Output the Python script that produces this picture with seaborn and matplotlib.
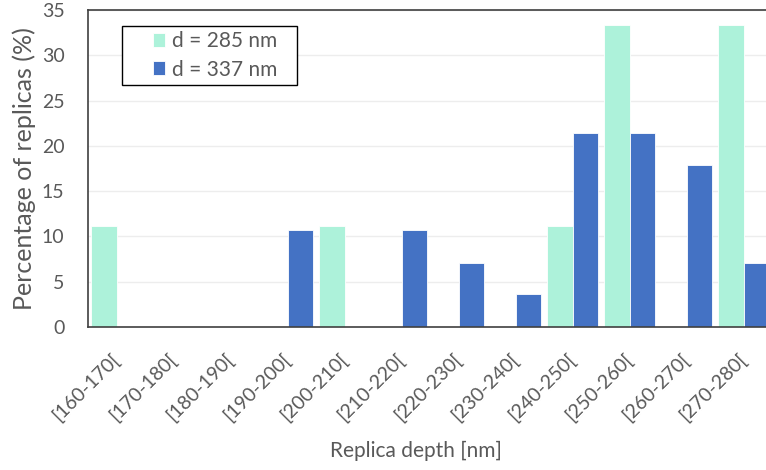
import matplotlib
matplotlib.use("Agg")
import matplotlib.pyplot as plt
from matplotlib.patches import Rectangle
import numpy as np
import pandas as pd
import seaborn as sns

categories = [
    "[160-170[", "[170-180[", "[180-190[", "[190-200[",
    "[200-210[", "[210-220[", "[220-230[", "[230-240[",
    "[240-250[", "[250-260[", "[260-270[", "[270-280[",
]
d_285 = [11.1, 0, 0, 0, 11.1, 0, 0, 0, 11.1, 33.3, 0, 33.3]
d_337 = [0, 0, 0, 10.7, 0, 10.7, 7.1, 3.6, 21.4, 21.4, 17.9, 7.1]
series_names = ["d = 285 nm", "d = 337 nm"]

df = pd.DataFrame({
    "depth": categories * 2,
    "pct": d_285 + d_337,
    "series": [series_names[0]] * len(categories) + [series_names[1]] * len(categories),
})

sns.set_style("white")
plt.rcParams["font.family"] = ["Lato", "DejaVu Sans"]

text_col = "#595959"
axis_col = "#404040"

fig = plt.figure(figsize=(7.66, 4.70), dpi=100)
# plot area runs past the right edge, like the cropped reference
ax = fig.add_axes([88 / 766, 143 / 470, 684 / 766, 317 / 470])

sns.barplot(
    data=df,
    x="depth",
    y="pct",
    hue="series",
    palette=["#ADF2DA", "#4472C4"],
    width=0.9,
    edgecolor="white",
    linewidth=0.6,
    saturation=1,
    ax=ax,
)

ax.set_xlim(-0.5, len(categories) - 0.5)
ax.set_ylim(0, 35)
ax.set_yticks(np.arange(0, 36, 5))
ax.yaxis.grid(True, color="#EDEDED", linewidth=1)
ax.set_axisbelow(True)

# boundary ticks between categories, labels at the centres
ax.set_xticks(np.arange(-0.5, len(categories), 1))
ax.set_xticklabels([])
ax.set_xticks(np.arange(len(categories)), minor=True)
ax.set_xticklabels(categories, minor=True, rotation=45, ha="right",
                   va="center", rotation_mode="anchor")
ax.tick_params(axis="x", which="major", direction="inout", length=10,
               width=1, color=axis_col)
ax.tick_params(axis="x", which="minor", length=0, pad=21,
               labelsize=14, labelcolor=text_col)
ax.tick_params(axis="y", direction="in", length=5, width=1,
               color=axis_col, labelsize=14, labelcolor=text_col, pad=17)

for side in ["left", "bottom", "top", "right"]:
    ax.spines[side].set_color(axis_col)
    ax.spines[side].set_linewidth(1.2)

ax.set_xlabel("Replica depth [nm]", fontsize=15, color=text_col)
ax.xaxis.label.set_va("center")
ax.xaxis.set_label_coords((416 - 88) / 684, (327 - 451) / 317)
ax.set_ylabel("Percentage of replicas (%)", fontsize=18, color=text_col)
ax.yaxis.label.set_va("center")
ax.yaxis.set_label_coords((24 - 88) / 684, 0.5)

# legend box drawn separately so the padding matches the reference
ax.add_patch(Rectangle(
    ((122 - 88) / 684, (327 - 85) / 317),
    175 / 684, 59 / 317,
    transform=ax.transAxes, facecolor="white", edgecolor="#000000",
    linewidth=1, zorder=4.5, clip_on=False,
))
leg = ax.legend(
    loc="center",
    bbox_to_anchor=((215 - 88) / 684, (327 - 55.5) / 317),
    borderaxespad=0,
    frameon=False,
    fontsize=15,
    handlelength=0.58,
    handleheight=0.67,
    handletextpad=0.35,
    borderpad=0,
    labelspacing=0.4,
    title=None,
)
leg.set_zorder(5)
for t in leg.get_texts():
    t.set_color(text_col)

fig.savefig("out.png", dpi=100)
